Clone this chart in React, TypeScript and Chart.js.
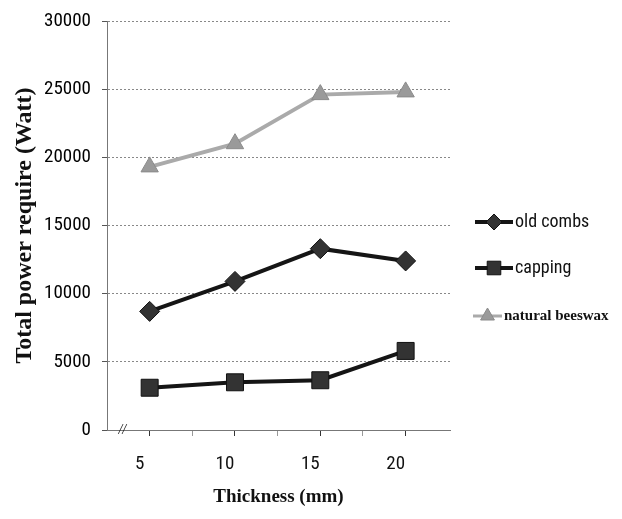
import React, { useEffect, useRef } from "react";
import { Chart, registerables } from "chart.js";
import { drawPoint } from "chart.js/helpers";

Chart.register(...registerables);

const thickness = [5, 10, 15, 20];
const oldCombs = [8700, 10900, 13300, 12400];
const capping = [3100, 3500, 3650, 5800];
const naturalBeeswax = [19300, 21000, 24600, 24800];
const xTickValues = [5, 7.5, 10, 12.5, 15, 17.5, 20];
const xTickLabels = ["5", "10", "15", "20"];
const seriesNames = ["old combs", "capping", "natural beeswax"];

const narrow = "'Roboto Condensed', 'DejaVu Sans Condensed', sans-serif";
const serif = "'Liberation Serif', 'DejaVu Serif', serif";

const legendPlugin = {
  id: "customLegend",
  afterDraw(chart: any) {
    const ctx = chart.ctx;
    const items = [
      { y: 214, x0: 467, x1: 505, font: `18px ${narrow}`, tx: 507 },
      { y: 260, x0: 467, x1: 505, font: `18px ${narrow}`, tx: 507 },
      { y: 308, x0: 465, x1: 494, font: `bold 15px ${serif}`, tx: 496 },
    ];
    chart.data.datasets.forEach((ds: any, i: number) => {
      const it = items[i];
      ctx.save();
      ctx.strokeStyle = ds.borderColor;
      ctx.lineWidth = i === 2 ? 3 : ds.borderWidth;
      ctx.beginPath();
      ctx.moveTo(it.x0, it.y);
      ctx.lineTo(it.x1, it.y);
      ctx.stroke();
      ctx.fillStyle = ds.pointBackgroundColor;
      ctx.strokeStyle = ds.pointBorderColor;
      ctx.lineWidth = 1;
      drawPoint(ctx, { pointStyle: ds.pointStyle, radius: ds.pointRadius * 0.8, rotation: 0, borderWidth: 1 }, (it.x0 + it.x1) / 2, it.y);
      ctx.fillStyle = "#111";
      ctx.font = it.font;
      ctx.textBaseline = "middle";
      ctx.textAlign = "left";
      ctx.fillText(seriesNames[i], it.tx, it.y);
      ctx.restore();
    });
    // axis break mark
    const xs = chart.scales.x;
    const ys = chart.scales.y;
    const bx = xs.getPixelForValue(3.4);
    const by = ys.getPixelForValue(0);
    ctx.save();
    ctx.fillStyle = "#111";
    ctx.font = `italic 14px ${serif}`;
    ctx.textAlign = "center";
    ctx.textBaseline = "middle";
    ctx.fillText("//", bx, by);
    ctx.restore();
  },
};

export default function App() {
  const ref = useRef<HTMLCanvasElement | null>(null);
  useEffect(() => {
    if (!ref.current) return;
    const mk = (vals: number[]) => thickness.map((x, i) => ({ x, y: vals[i] }));
    const chart = new Chart(ref.current, {
      type: "line",
      data: {
        datasets: [
          {
            label: seriesNames[0],
            data: mk(oldCombs),
            borderColor: "#151515",
            backgroundColor: "#151515",
            borderWidth: 4,
            pointStyle: "rectRot",
            pointRadius: 10,
            pointBackgroundColor: "#333",
            pointBorderColor: "#111",
            pointBorderWidth: 1,
          },
          {
            label: seriesNames[1],
            data: mk(capping),
            borderColor: "#151515",
            backgroundColor: "#151515",
            borderWidth: 4,
            pointStyle: "rect",
            pointRadius: 12,
            pointBackgroundColor: "#333",
            pointBorderColor: "#111",
            pointBorderWidth: 1,
          },
          {
            label: seriesNames[2],
            data: mk(naturalBeeswax),
            borderColor: "#aaaaaa",
            backgroundColor: "#aaaaaa",
            borderWidth: 4,
            pointStyle: "triangle",
            pointRadius: 10,
            pointBackgroundColor: "#9a9a9a",
            pointBorderColor: "#8a8a8a",
            pointBorderWidth: 1,
          },
        ],
      },
      options: {
        animation: false,
        responsive: true,
        maintainAspectRatio: false,
        layout: { padding: { top: 0, right: 164, left: 0, bottom: 0 } },
        plugins: { legend: { display: false }, tooltip: { enabled: false } },
        scales: {
          x: {
            type: "linear",
            min: 2.5,
            max: 22.6,
            afterBuildTicks: (s: any) => {
              s.ticks = xTickValues.map((v) => ({ value: v }));
            },
            afterFit: (s: any) => {
              s.height = 78;
            },
            ticks: {
              autoSkip: false,
              maxRotation: 0,
              padding: 17,
              labelOffset: -10,
              color: "#111",
              font: { family: narrow, size: 19 },
              callback: (v: any) => (xTickLabels.includes(String(v)) ? String(v) : ""),
            },
            grid: {
              drawOnChartArea: false,
              drawTicks: true,
              tickLength: 6,
              color: (c: any) => (c.tick && Number.isInteger(c.tick.value) ? "#333" : "#999"),
            },
            border: { display: true, color: "#777", dash: [2, 2], width: 1 },
            title: {
              display: true,
              text: "Thickness (mm)",
              color: "#111",
              font: { family: serif, size: 19, weight: "bold" },
              padding: { top: 0, bottom: 0 },
            },
          },
          y: {
            type: "linear",
            min: 0,
            max: 30000,
            afterFit: (s: any) => {
              s.width = 99;
              s.paddingTop = 11;
              s.paddingBottom = 0;
            },
            ticks: {
              stepSize: 5000,
              padding: 11,
              color: "#000",
              font: { family: narrow, size: 19 },
              callback: (v: any) => String(v),
            },
            grid: {
              color: "#888",
              tickLength: 5,
              tickColor: "#555",
            },
            border: { display: true, color: "#777", dash: [2, 2], width: 1 },
            title: {
              display: true,
              text: "Total power require (Watt)",
              color: "#111",
              font: { family: serif, size: 24, weight: "bold" },
              padding: { top: 2, bottom: 0 },
            },
          },
        },
      },
      plugins: [
        legendPlugin,
        {
          id: "dashGrid",
          beforeDraw(chart: any) {
            const g = chart.options.scales.y.grid;
            g.borderDash = [2, 2];
          },
        },
      ],
    } as any);
    return () => chart.destroy();
  }, []);
  return (
    <div style={{ width: 606, height: 500, position: "relative" }}>
      <canvas ref={ref} />
    </div>
  );
}
